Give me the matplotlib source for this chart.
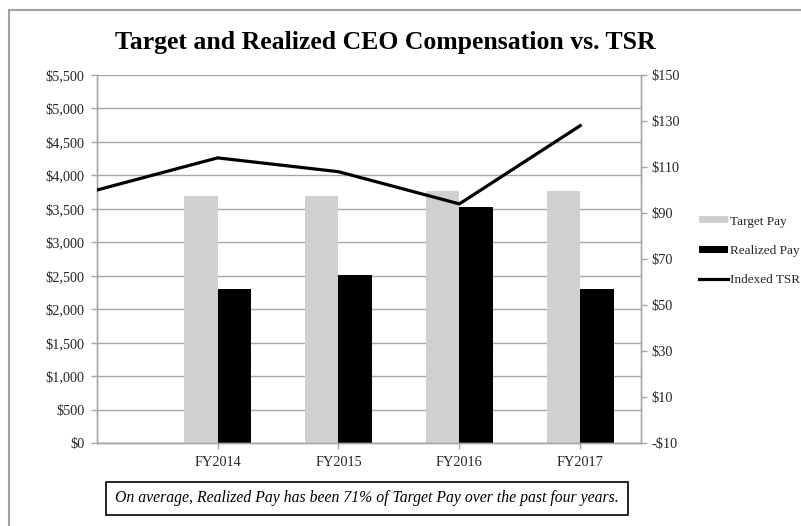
import matplotlib.pyplot as plt
from matplotlib.patches import Rectangle
from matplotlib.ticker import FuncFormatter
import numpy as np

plt.rcParams['font.family'] = ['Liberation Serif', 'DejaVu Serif']

years = ["FY2014", "FY2015", "FY2016", "FY2017"]
target_pay = [3700, 3700, 3770, 3770]
realized_pay = [2300, 2520, 3530, 2300]
# first point is the base year (indexed to $100)
tsr_points = ["base", "FY2014", "FY2015", "FY2016", "FY2017"]
indexed_tsr = [100, 114, 108, 94, 128]

grid_col = "#a6a6a6"
text_col = "#262626"

fig = plt.figure(figsize=(8.01, 5.26), dpi=100)
ax = fig.add_axes([0.1207, 0.1572, 0.6792, 0.7002])

x = np.arange(1, len(years) + 1)
bw = 0.278
ax.bar(x - bw / 2, target_pay, bw, color="#d0d0d0", label="Target Pay", zorder=2)
ax.bar(x + bw / 2, realized_pay, bw, color="black", label="Realized Pay", zorder=2)

ax.set_xlim(0, 4.5)
ax.set_ylim(0, 5500)
ax.set_yticks(np.arange(0, 5501, 500))
ax.yaxis.set_major_formatter(FuncFormatter(lambda v, p: "${:,.0f}".format(v)))
ax.set_xticks(x)
ax.set_xticklabels(years)
ax.grid(axis="y", color=grid_col, lw=1, zorder=0)
ax.set_axisbelow(True)

ax2 = ax.twinx()
ax2.plot(np.arange(len(tsr_points)), indexed_tsr, color="black", lw=2.3,
         label="Indexed TSR", zorder=3, solid_joinstyle="miter")
ax2.set_ylim(-10, 150)
ax2.set_yticks(np.arange(-10, 151, 20))
ax2.yaxis.set_major_formatter(FuncFormatter(lambda v, p: ("-$%d" % -v) if v < 0 else ("$%d" % v)))

for a in (ax, ax2):
    a.spines["top"].set_visible(False)
    for s in ("left", "right", "bottom"):
        a.spines[s].set_color(grid_col)
        a.spines[s].set_linewidth(1)
    a.tick_params(colors=grid_col, labelcolor=text_col, labelsize=10.3, length=4, width=1)
ax.tick_params(axis="y", pad=5)
ax.tick_params(axis="x", pad=5)
ax2.tick_params(axis="y", pad=4)

fig.text(385 / 801, 1 - 42 / 526, "Target and Realized CEO Compensation vs. TSR",
         ha="center", va="center", fontsize=18.5, fontweight="bold", color="black")

h1, l1 = ax.get_legend_handles_labels()
h2, l2 = ax2.get_legend_handles_labels()
fig.legend(h1 + h2, l1 + l2, loc="upper left", bbox_to_anchor=(692 / 801, 1 - 209 / 526),
           frameon=False, fontsize=9.5, borderpad=0, handlelength=2.2, handleheight=0.45,
           handletextpad=0.2, labelspacing=1.3, labelcolor=text_col)

fig.text(367 / 801, 1 - 498.5 / 526,
         "On average, Realized Pay has been 71% of Target Pay over the past four years.",
         ha="center", va="center", fontsize=11.35, style="italic", color="black",
         bbox=dict(boxstyle="square,pad=0.55", facecolor="white", edgecolor="black", lw=1.2))

fig.add_artist(Rectangle((9 / 801, -0.1), 1.2, 1.1 - 10 / 526, transform=fig.transFigure,
                         fill=False, edgecolor="#a0a0a0", lw=1.5))

fig.savefig("out.png", dpi=100)
